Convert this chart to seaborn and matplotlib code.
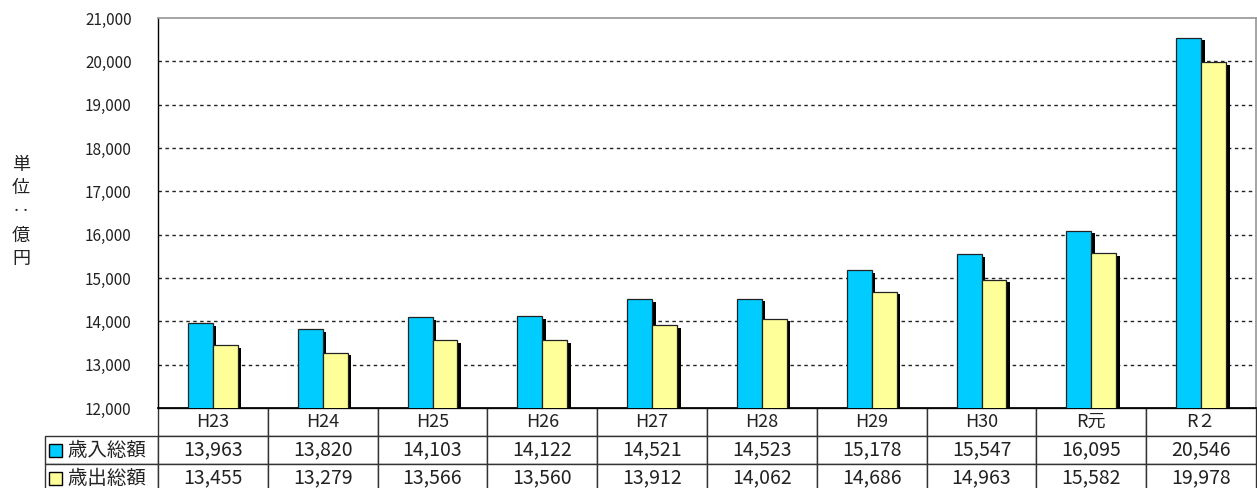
import matplotlib
matplotlib.use("Agg")
import matplotlib.pyplot as plt
import matplotlib.patheffects as pe
from matplotlib.patches import Rectangle
import seaborn as sns
import pandas as pd

categories = ["H23", "H24", "H25", "H26", "H27", "H28", "H29", "H30", "R元", "R２"]
revenue = [13963, 13820, 14103, 14122, 14521, 14523, 15178, 15547, 16095, 20546]
expenditure = [13455, 13279, 13566, 13560, 13912, 14062, 14686, 14963, 15582, 19978]
series_names = ["歳入総額", "歳出総額"]
colors = ["#00CCFF", "#FFFF99"]
yticks = list(range(12000, 21001, 1000))

sns.set_theme(style="white")
plt.rcParams["font.family"] = ["Noto Sans CJK JP", "DejaVu Sans"]

df = pd.DataFrame({
    "cat": categories * 2,
    "val": revenue + expenditure,
    "series": [series_names[0]] * len(categories) + [series_names[1]] * len(categories),
})

fig = plt.figure(figsize=(12.57, 4.88), dpi=100)
ax = fig.add_axes([158 / 1257, 1 - 408 / 488, 1098 / 1257, 390 / 488])

sns.barplot(data=df, x="cat", y="val", hue="series", palette=colors, width=0.455,
            saturation=1, ax=ax, legend=False, edgecolor="#222222", linewidth=0.9, zorder=3)
for p in ax.patches:
    p.set_path_effects([pe.withSimplePatchShadow(offset=(2.5, -2), shadow_rgbFace="black",
                                                 alpha=1.0, rho=1.0)])

ax.set_ylim(12000, 21000)
ax.set_xlim(-0.5, len(categories) - 0.5)
ax.set_yticks(yticks)
ax.set_yticklabels([f"{v:,}" for v in yticks], fontsize=11, color="#222222")
ax.tick_params(axis="y", length=3, width=0.8, color="black", pad=16)
ax.set_xticks([])
ax.set_xlabel("")
ax.set_ylabel("")
for v in yticks[1:-1]:
    ax.axhline(v, color="#222222", linestyle=(0, (2.5, 2.5)), linewidth=1.0, zorder=1)

ax.spines["left"].set_color("black")
ax.spines["left"].set_linewidth(1.0)
ax.spines["top"].set_color("#999999")
ax.spines["right"].set_color("#999999")
ax.spines["bottom"].set_color("black")

# data table
rowh = 28 / 390
labw = 113 / 1098
cell_text = [[""] + categories,
             ["     " + series_names[0]] + [f"{v:,}" for v in revenue],
             ["     " + series_names[1]] + [f"{v:,}" for v in expenditure]]
colw = [labw] + [1.0 / len(categories)] * len(categories)
tbl = ax.table(cellText=cell_text, colWidths=colw, cellLoc="center",
               bbox=[-labw, -3 * rowh, 1 + labw, 3 * rowh])
tbl.auto_set_font_size(False)
for (r, c), cell in tbl.get_celld().items():
    cell.set_edgecolor("#333333")
    cell.set_linewidth(1.0)
    cell.get_text().set_fontsize(14 if r > 0 else 13)
    cell.get_text().set_color("#222222")
    if c == 0:
        cell.get_text().set_ha("left")
        cell._loc = "left"
        cell.PAD = 0.01
        cell.get_text().set_fontsize(14)
    if r == 0 and c == 0:
        cell.visible_edges = ""

sq_w = 13 / 1098
sq_h = 13 / 390
for i, col in enumerate(colors):
    ax.add_patch(Rectangle((-labw + 4 / 1098, -(1.5 + i) * rowh - sq_h / 2), sq_w, sq_h,
                           transform=ax.transAxes, facecolor=col, edgecolor="black",
                           linewidth=1.0, clip_on=False, zorder=5))

fig.text(21 / 1257, 1 - 212 / 488, "単\n位\n‥\n億\n円", ha="center", va="center",
         fontsize=13, linespacing=1.4, color="#222222")

fig.savefig("out.png", dpi=100)
